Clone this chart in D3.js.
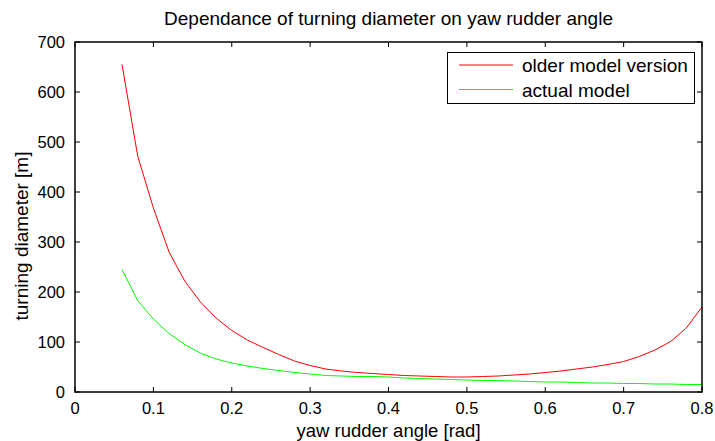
<!DOCTYPE html>
<html><head><meta charset="utf-8">
<script src="https://cdn.jsdelivr.net/npm/d3@7"></script>
<style>body{margin:0;background:#fff}svg{display:block}text{font-family:"Liberation Sans",Arial,sans-serif;fill:#000}</style>
</head><body>
<svg id="c" width="715" height="441"></svg>
<script>
const xValues = [0.06,0.08,0.10,0.12,0.14,0.16,0.18,0.20,0.22,0.24,0.26,0.28,0.30,0.32,0.34,0.36,0.38,0.40,0.42,0.44,0.46,0.48,0.50,0.52,0.54,0.56,0.58,0.60,0.62,0.64,0.66,0.68,0.70,0.72,0.74,0.76,0.78,0.80];
const olderModel = [655,472,368,280,222,180,148,123,104,89,75,62,53,46,42,39,37,35,33,32,31,30,30,31,32,34,36,39,42,46,50,55,61,71,84,101,128,170];
const actualModel = [245,183,146,117,95,78,66,58,52,47,43,39,36,33,32,31,31,30,28,27,26,25,24,23,23,22,21,20,20,19,18,18,17,17,16,16,15,15];
const xTicks = [0,0.1,0.2,0.3,0.4,0.5,0.6,0.7,0.8];
const yTicks = [0,100,200,300,400,500,600,700];
const seriesNames = ["older model version","actual model"];
const seriesColors = ["#ff0000","#00ff00"];

const svg = d3.select("#c");
const L=75,R=702,T=42,B=392;
const x = d3.scaleLinear().domain([0,0.8]).range([L,R]);
const y = d3.scaleLinear().domain([0,700]).range([B,T]);
const tl=5;
const fmtX = d => d===0?"0":d3.format(".1f")(d);

const g = svg.append("g").attr("stroke","#000").attr("stroke-width",1);
xTicks.forEach(t=>{
  g.append("line").attr("x1",x(t)).attr("x2",x(t)).attr("y1",B).attr("y2",B-tl);
  g.append("line").attr("x1",x(t)).attr("x2",x(t)).attr("y1",T).attr("y2",T+tl);
});
yTicks.forEach(t=>{
  g.append("line").attr("x1",L).attr("x2",L+tl).attr("y1",y(t)).attr("y2",y(t));
  g.append("line").attr("x1",R).attr("x2",R-tl).attr("y1",y(t)).attr("y2",y(t));
});

const line = d3.line().x((d,i)=>x(xValues[i])).y(d=>y(d));
[olderModel,actualModel].forEach((s,i)=>{
  svg.append("path").datum(s).attr("d",line).attr("fill","none").attr("stroke",seriesColors[i]).attr("stroke-width",1);
});

svg.append("rect").attr("x",L).attr("y",T).attr("width",R-L).attr("height",B-T).attr("fill","none").attr("stroke","#000").attr("stroke-width",1.5);

xTicks.forEach(t=>{
  svg.append("text").attr("x",x(t)).attr("y",B+22).attr("text-anchor","middle").attr("font-size",16.5).text(fmtX(t));
});
yTicks.forEach(t=>{
  svg.append("text").attr("x",L-10).attr("y",y(t)+6).attr("text-anchor","end").attr("font-size",16.5).text(t);
});

svg.append("text").attr("x",(L+R)/2).attr("y",25).attr("text-anchor","middle").attr("font-size",19).text("Dependance of turning diameter on yaw rudder angle");
svg.append("text").attr("x",(L+R)/2).attr("y",437).attr("text-anchor","middle").attr("font-size",18.5).text("yaw rudder angle [rad]");
svg.append("text").attr("transform",`translate(28,236) rotate(-90)`).attr("text-anchor","middle").attr("font-size",19).text("turning diameter [m]");

const lg = svg.append("g");
lg.append("rect").attr("x",447.5).attr("y",52.5).attr("width",247).attr("height",51).attr("fill","#fff").attr("stroke","#000").attr("stroke-width",1);
seriesNames.forEach((n,i)=>{
  const yy = 65 + i*24.5;
  lg.append("line").attr("x1",459).attr("x2",513).attr("y1",yy).attr("y2",yy).attr("stroke",seriesColors[i]).attr("stroke-width",1);
  lg.append("text").attr("x",522).attr("y",yy+7).attr("font-size",19).text(n);
});
</script>
</body></html>
